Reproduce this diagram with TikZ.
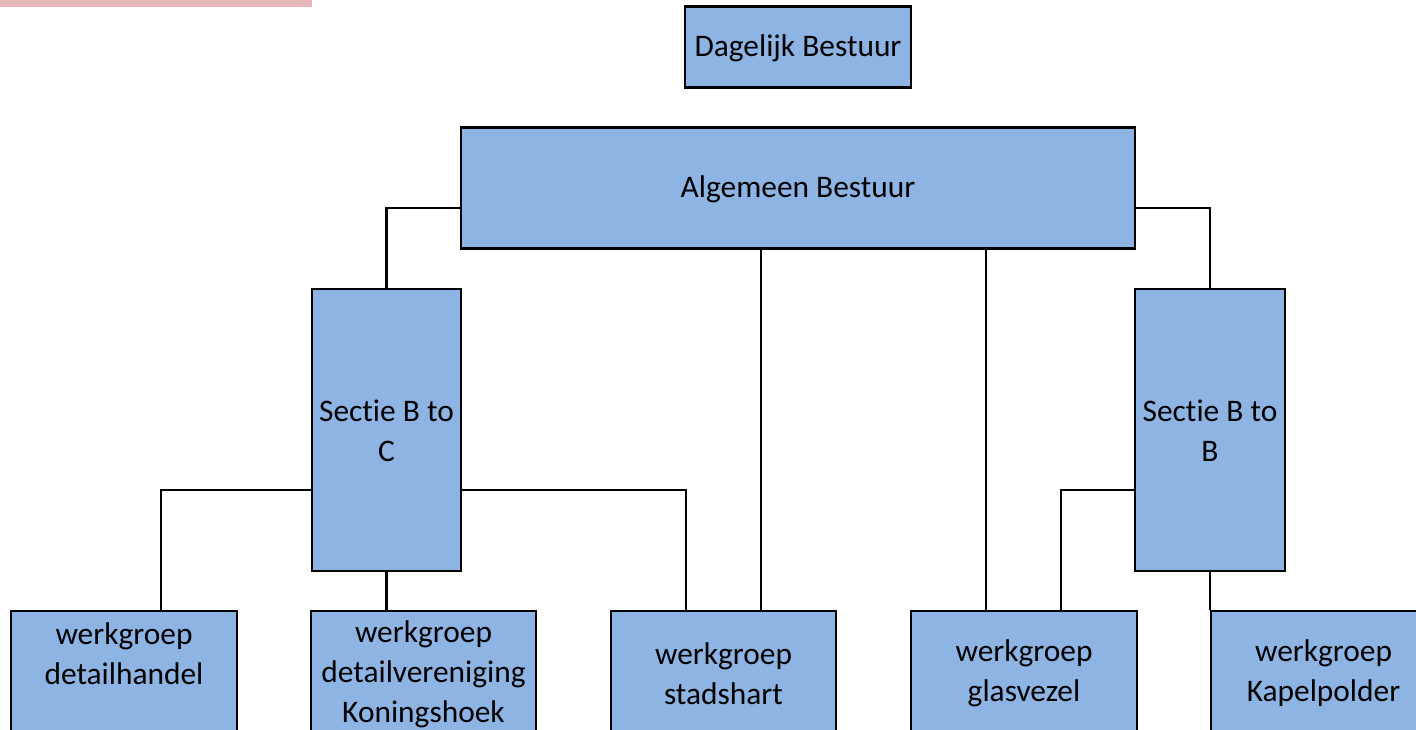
\documentclass[tikz,border=0pt]{standalone}
\usepackage{fontspec}
\setmainfont{Carlito}[Ligatures={NoCommon}]
\definecolor{boxblue}{HTML}{8EB4E3}
\definecolor{barpink}{HTML}{E6B8B7}
\begin{document}
\begin{tikzpicture}[x=1pt,y=-1pt]
\tikzset{
  orgbox/.style={draw=black, fill=boxblue, line width=2.5pt, inner sep=0pt},
  lbl/.style={align=center, inner sep=0pt, font=\fontsize{31.4}{40}\selectfont},
  conn/.style={draw=black, line width=2.5pt},
}
\useasboundingbox (0,0) rectangle (1416,730);
\clip (0,0) rectangle (1416,730);
\fill[barpink] (0,0) rectangle (312,7);
% boxes
\node[orgbox, minimum width=226pt, minimum height=81pt] (db) at (798,47) {};
\node[lbl] (dbt) at (798,48) {Dagelijk Bestuur};
\node[orgbox, minimum width=674pt, minimum height=121pt] (ab) at (798,188) {};
\node[lbl] (abt) at (798,189) {Algemeen Bestuur};
\node[orgbox, minimum width=149pt, minimum height=282pt] (sc) at (386.5,430) {};
\node[lbl] (sct) at (386.5,431) {Sectie B to\\C};
\node[orgbox, minimum width=150pt, minimum height=282pt] (sb) at (1210,430) {};
\node[lbl] (sbt) at (1210,431) {Sectie B to\\B};
\node[orgbox, minimum width=226pt, minimum height=160pt] (wd) at (124,691) {};
\node[lbl] (wdt) at (124,654) {werkgroep\\detailhandel};
\node[orgbox, minimum width=225pt, minimum height=160pt] (wk) at (423.5,691) {};
\node[lbl] (wkt) at (423.5,674) {werkgroep\\detailvereniging\\Koningshoek};
\node[orgbox, minimum width=225pt, minimum height=160pt] (ws) at (723.5,691) {};
\node[lbl] (wst) at (723.5,673.5) {werkgroep\\stadshart};
\node[orgbox, minimum width=226pt, minimum height=160pt] (wg) at (1024,691) {};
\node[lbl] (wgt) at (1024,673.5) {werkgroep\\glasvezel};
\node[orgbox, minimum width=225pt, minimum height=160pt] (wp) at (1323.5,691) {};
\node[lbl] (wpt) at (1323.5,673.5) {werkgroep\\Kapelpolder};
% connectors
\draw[conn] ([yshift=-20pt]ab.west) -| (sc.north);
\draw[conn] ([yshift=-20pt]ab.east) -| (sb.north);
\coordinate (s1) at ([xshift=37.5pt]ws.north);
\draw[conn] (s1 |- ab.south) -- (s1);
\coordinate (g1) at ([xshift=-38pt]wg.north);
\draw[conn] (g1 |- ab.south) -- (g1);
\draw[conn] (sc.south) -- (sc.south |- wk.north);
\coordinate (d1) at ([xshift=37pt]wd.north);
\draw[conn] ([yshift=-60pt]sc.west) -| (d1);
\coordinate (s2) at ([xshift=-37.5pt]ws.north);
\draw[conn] ([yshift=-60pt]sc.east) -| (s2);
\coordinate (g2) at ([xshift=37pt]wg.north);
\draw[conn] ([yshift=-60pt]sb.west) -| (g2);
\draw[conn] (sb.south) -- (sb.south |- wp.north);
\end{tikzpicture}
\end{document}
